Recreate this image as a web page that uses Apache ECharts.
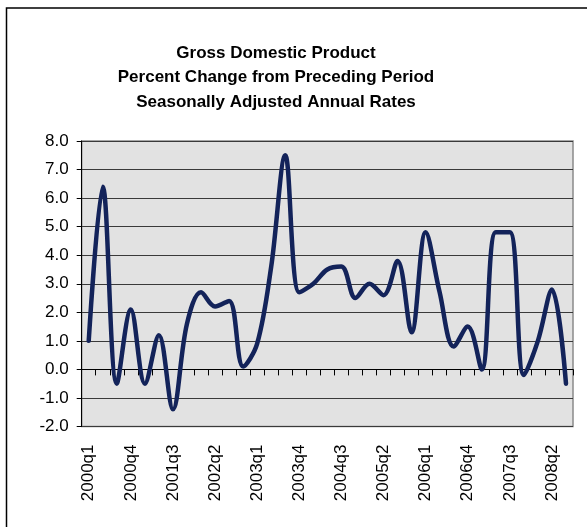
<!DOCTYPE html>
<html>
<head>
<meta charset="utf-8">
<script src="https://cdn.jsdelivr.net/npm/echarts@6/dist/echarts.min.js"></script>
<style>
html,body{margin:0;padding:0;background:#fff;}
#chart{width:587px;height:527px;}
</style>
</head>
<body>
<div id="chart"></div>
<script>
var quarters = [
  "2000q1","2000q2","2000q3","2000q4",
  "2001q1","2001q2","2001q3","2001q4",
  "2002q1","2002q2","2002q3","2002q4",
  "2003q1","2003q2","2003q3","2003q4",
  "2004q1","2004q2","2004q3","2004q4",
  "2005q1","2005q2","2005q3","2005q4",
  "2006q1","2006q2","2006q3","2006q4",
  "2007q1","2007q2","2007q3","2007q4",
  "2008q1","2008q2","2008q3"
];
var gdpChange = [
  1.0, 6.4, -0.5, 2.1,
  -0.5, 1.2, -1.4, 1.6,
  2.7, 2.2, 2.4, 0.1,
  0.9, 3.6, 7.5, 2.7,
  3.0, 3.5, 3.6, 2.5,
  3.0, 2.6, 3.8, 1.3,
  4.8, 2.7, 0.8, 1.5,
  0.0, 4.8, 4.8, -0.2,
  1.0, 2.8, -0.5
];
var titleLines = [
  "Gross Domestic Product",
  "Percent Change from Preceding Period",
  "Seasonally Adjusted Annual Rates"
];

var chart = echarts.init(document.getElementById('chart'), null, {renderer: 'canvas'});
var font = '"Liberation Sans", Arial, sans-serif';
chart.setOption({
  animation: false,
  backgroundColor: '#ffffff',
  title: {
    text: titleLines.join('\n'),
    left: 271,
    top: 36,
    textAlign: 'center',
    textStyle: {
      fontFamily: font,
      fontWeight: 'bold',
      fontSize: 17,
      lineHeight: 24.5,
      color: '#000'
    }
  },
  graphic: [{
    type: 'rect',
    shape: {x: 6.5, y: 8, width: 620, height: 560},
    style: {fill: 'none', stroke: '#000', lineWidth: 1.5},
    z: 100
  }],
  grid: {
    left: 81.7, top: 141, right: 14, bottom: 100.5,
    show: true,
    backgroundColor: '#E2E2E2',
    borderColor: '#8a8a8a',
    borderWidth: 1.5
  },
  xAxis: [{
    type: 'category',
    data: quarters,
    position: 'bottom',
    boundaryGap: true,
    axisLine: {show: true, onZero: true, lineStyle: {color: '#000', width: 1}},
    axisTick: {show: true, interval: 0, length: 6, lineStyle: {color: '#000'}},
    axisLabel: {show: false},
    splitLine: {show: false}
  }, {
    type: 'category',
    data: quarters,
    position: 'bottom',
    boundaryGap: true,
    axisLine: {show: false, onZero: false},
    axisTick: {show: false},
    axisLabel: {
      show: true, interval: 2, rotate: 90, margin: 18,
      fontFamily: font, fontSize: 17, color: '#000'
    },
    splitLine: {show: false}
  }],
  yAxis: {
    type: 'value',
    min: -2, max: 8, interval: 1,
    axisLine: {show: true, onZero: false, lineStyle: {color: '#000', width: 1}},
    axisTick: {show: true, length: 5, lineStyle: {color: '#000'}},
    axisLabel: {
      margin: 13, fontFamily: font, fontSize: 17, color: '#000',
      formatter: function (v) { return v.toFixed(1); }
    },
    splitLine: {show: true, lineStyle: {color: '#3a3a3a', width: 1}}
  },
  series: [{
    type: 'line',
    xAxisIndex: 0,
    data: gdpChange,
    smooth: 0.35,
    symbol: 'none',
    lineStyle: {color: '#13235A', width: 4.5, cap: 'round', join: 'round'},
    z: 5
  }]
});
</script>
</body>
</html>
